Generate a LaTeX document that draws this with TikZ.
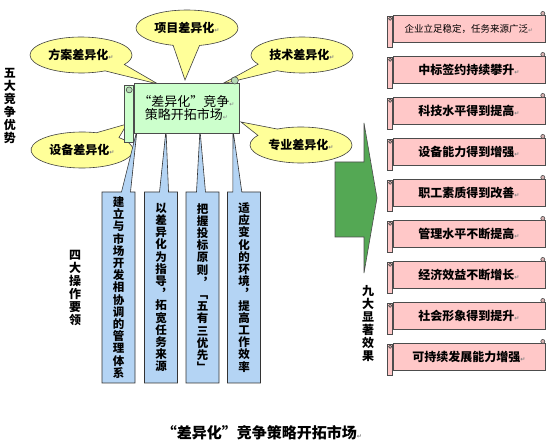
\documentclass[tikz,border=0pt]{standalone}
\usepackage{fontspec}
\setmainfont{Noto Sans CJK SC}
\newfontfamily\sym{DejaVu Sans}
\usetikzlibrary{shapes.geometric,shapes.callouts,positioning}

\definecolor{bubblefill}{RGB}{255,255,153}
\definecolor{scrollgreen}{RGB}{204,255,204}
\definecolor{stripblue}{RGB}{180,212,244}
\definecolor{rollpink}{RGB}{255,200,200}
\definecolor{arrowgreen}{RGB}{84,168,84}

\newcommand{\ret}{{\sym\fontsize{6}{6}\selectfont\color{gray}↵}}

% one character per line
\makeatletter
\def\vstack#1{\vst@ck#1\vst@end}
\def\vst@ck#1#2\vst@end{#1\if\relax\detokenize{#2}\relax\else\\\vst@ck#2\vst@end\fi}
\makeatother

% name, centre, width, height, roll, colour, text
\newcommand{\rollbox}[7]{%
	\node[rollbody,fill=#6,minimum width=#3,minimum height=#4] (#1) at #2 {#7};
	\draw[rolledge,fill=#6] ([xshift=-#5,yshift=-#5/3]#1.north west) rectangle ([yshift=-#5]#1.south west);
	\draw[rolledge,fill=#6!70!gray] ([xshift=-#5/2,yshift=-#5*0.8]#1.north west) circle (#5/3);
	\draw[rolledge,fill=#6!70!gray] ([xshift=-#5/2,yshift=#5/4]#1.north east) circle (#5/2.5);
}

\tikzset{
	bubble/.style={ellipse callout,draw=black!75,fill=bubblefill,line width=0.6pt,
		minimum width=102,minimum height=36,inner sep=1pt,callout pointer arc=30,
		font=\bfseries\fontsize{12}{12}\selectfont},
	strip/.style={rectangle callout,draw=black!80,fill=stripblue,line width=0.6pt,
		minimum width=33,minimum height=191,inner sep=0pt,callout pointer width=9,
		align=center,font=\bfseries\fontsize{11.5}{12.2}\selectfont},
	rollbody/.style={draw=black!70,line width=0.6pt,inner sep=0pt,align=center,
		font=\bfseries\fontsize{12}{12}\selectfont},
	rolledge/.style={draw=black!70,line width=0.6pt},
	sidelabel/.style={align=center,font=\bfseries\fontsize{12}{13}\selectfont}
}

\begin{document}
\begin{tikzpicture}[x=1pt,y=-1pt]
	\useasboundingbox (0,0) rectangle (550,446);
	% pointer ends on the core scroll
	\coordinate (pxm) at (185,80);
	\coordinate (pfa) at (158,84);
	\coordinate (pjs) at (222,84);
	\coordinate (psb) at (127,124);
	\coordinate (pzy) at (241,122);
	\coordinate (t1) at (137,130);
	\coordinate (t2) at (166,130);
	\coordinate (t3) at (200,130);
	\coordinate (t4) at (233,130);
	% five advantages
	\node[bubble,callout absolute pointer=(pxm)] (xm) at (187,28) {项目差异化\ret};
	\node[bubble,callout absolute pointer=(pfa)] (fa) at (81,55) {方案差异化\ret};
	\node[bubble,callout absolute pointer=(pjs)] (js) at (302,55) {技术差异化\ret};
	\node[bubble,callout absolute pointer=(psb)] (sb) at (82,150) {设备差异化\ret};
	\node[bubble,callout absolute pointer=(pzy)] (zy) at (301,145) {专业差异化\ret};
	% four operating points
	\node[strip,callout absolute pointer=(t1)] (s1) at (118.5,287.5) {\vstack{建立与市场开发相协调的管理体系}};
	\node[strip,callout absolute pointer=(t2)] (s2) at (161,287.5) {\vstack{以差异化为指导︐拓宽任务来源}};
	\node[strip,callout absolute pointer=(t3)] (s3) at (202.5,287.5) {\vstack{把握投标原则︐﹁五有三优先﹂}};
	\node[strip,callout absolute pointer=(t4)] (s4) at (244,287.5) {\vstack{适应变化的环境︐提高工作效率}};
	% core
	\rollbox{core}{(186.5,108)}{105}{50}{9}{scrollgreen}{\mdseries\fontsize{13}{20}\selectfont “差异化”竞争\ret\\
		\mdseries\fontsize{13}{20}\selectfont 策略开拓市场\ret}
	% arrow
	\draw[draw=black!70,line width=0.6pt,fill=arrowgreen] (335,162) -- (364,162) -- (364,123) -- (377,198)
		-- (364,273) -- (364,237) -- (335,237) -- cycle;
	% nine results
	\rollbox{res1}{(469,28.5)}{152}{27}{5}{rollpink}{\mdseries\fontsize{9.5}{10}\selectfont 企业立足稳定，任务来源广泛\ret}
	\foreach \txt [count=\i from 2] in {中标签约持续攀升,科技水平得到提高,设备能力得到增强,职工素质得到改善,
		管理水平不断提高,经济效益不断增长,社会形象得到提升,可持续发展能力增强}
	{
		\rollbox{res\i}{(469,{28.5+41*(\i-1)})}{152}{27}{5}{rollpink}{\txt\ret}
	}
	% labels
	\node[sidelabel] (lwu) at (10,106) {\vstack{五大竞争优势}};
	\node[sidelabel] (lsi) at (75,288) {\vstack{四大操作要领}};
	\node[sidelabel] (ljiu) at (368,324) {\vstack{九大显著效果}};
	\node[font=\bfseries\fontsize{15}{15}\selectfont] (title) at (262,433) {“差异化”竞争策略开拓市场\ret};
\end{tikzpicture}
\end{document}
